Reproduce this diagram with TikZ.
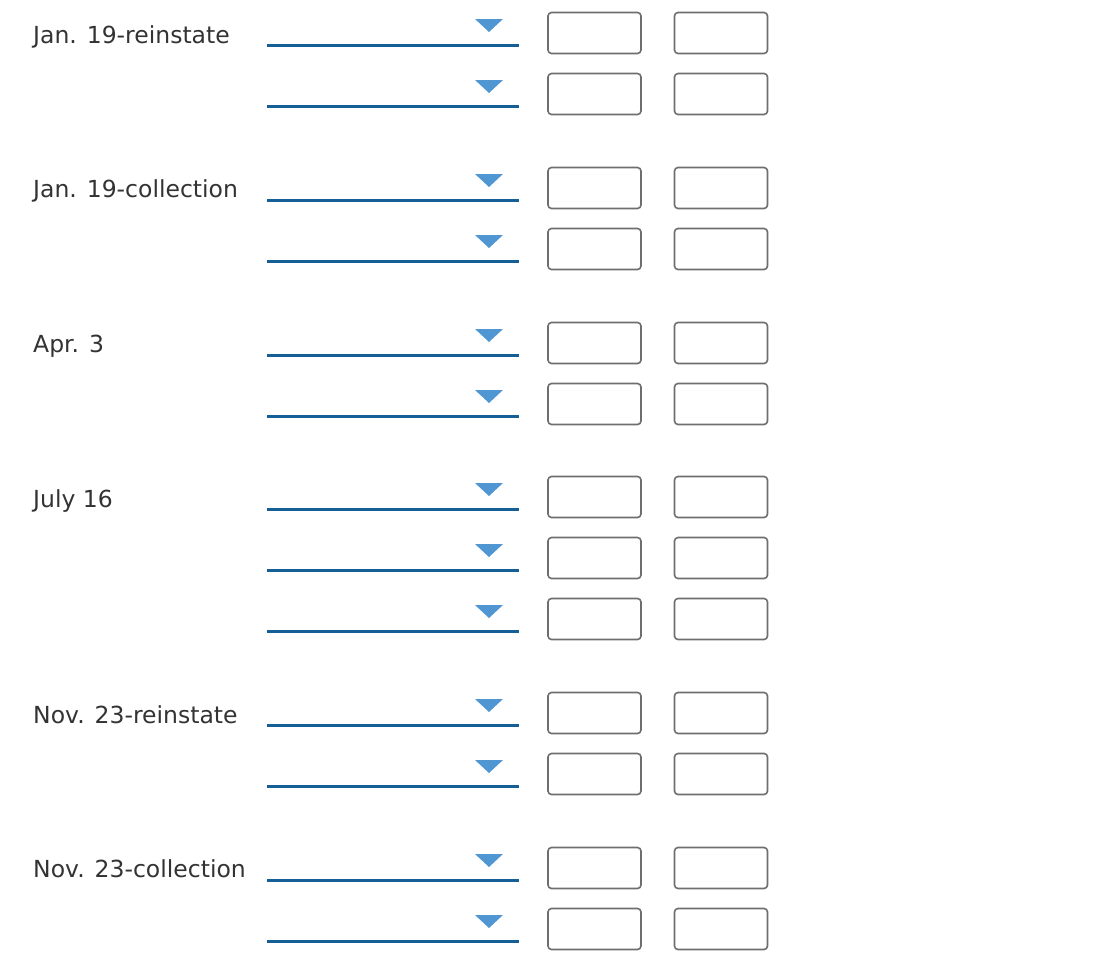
\documentclass[tikz,border=0pt]{standalone}
\usepackage{fontspec}
\setmainfont{DejaVu Sans}
\definecolor{ln}{RGB}{22,94,150}
\definecolor{tri}{RGB}{80,150,210}
\definecolor{bx}{RGB}{110,110,110}
\definecolor{tx}{RGB}{51,51,51}
\begin{document}
\begin{tikzpicture}[x=1pt,y=-1pt,
 lab/.style={anchor=base west,inner sep=0,text=tx,font=\fontsize{23.5}{26}\selectfont},
 inbox/.style={draw=bx,line width=1.6pt,rounded corners=3.5pt,fill=white,minimum width=93pt,minimum height=41pt,inner sep=0}]
\useasboundingbox (0,0) rectangle (1120,980);
\newcommand\entry[2]{%
 \draw[ln,line width=3pt] (267,#1) -- (519,#1);
 \fill[tri] (475,#1-26) -- (503,#1-26) -- (489,#1-13) -- cycle;
 \node[inbox] (a#2) at (594.5,#1-12) {};
 \node[inbox] (b#2) at (721,#1-12) {};}
\entry{45}{1}\entry{106}{2}
\entry{200}{3}\entry{261}{4}
\entry{355}{5}\entry{416}{6}
\entry{509}{7}\entry{570}{8}\entry{631}{9}
\entry{725}{10}\entry{786}{11}
\entry{880}{12}\entry{941}{13}
\node[lab] (l1) at (33,43) {Jan. 19-reinstate};
\node[lab] (l2) at (33,197) {Jan. 19-collection};
\node[lab] (l3) at (33,352) {Apr. 3};
\node[lab] (l4) at (33,507) {July 16};
\node[lab] (l5) at (33,723) {Nov. 23-reinstate};
\node[lab] (l6) at (33,877) {Nov. 23-collection};
\end{tikzpicture}
\end{document}
